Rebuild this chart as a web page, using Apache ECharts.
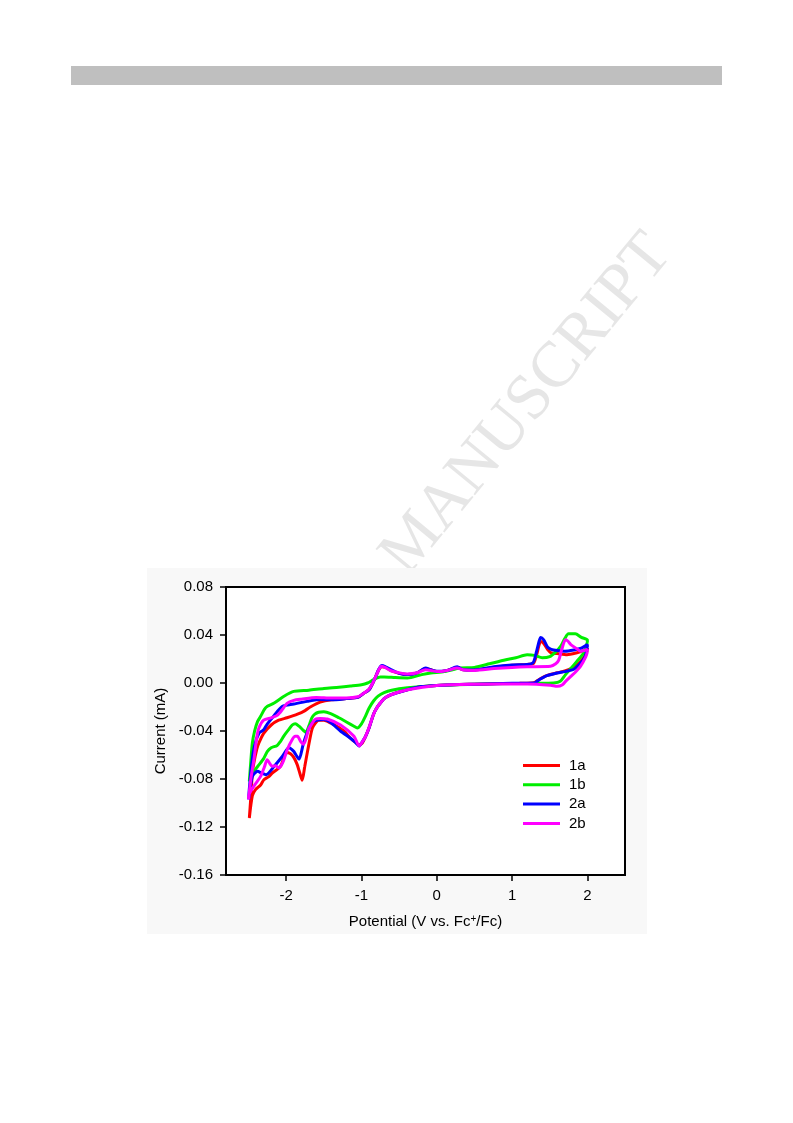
<!DOCTYPE html>
<html>
<head>
<meta charset="utf-8">
<script src="https://cdn.jsdelivr.net/npm/echarts@6/dist/echarts.min.js"></script>
<style>
html,body{margin:0;padding:0;background:#fff;}
#chart{width:793px;height:1123px;}
</style>
</head>
<body>
<div id="chart"></div>
<script>
// ---- Data (Potential V vs Fc+/Fc, Current mA), each loop traced in scan order ----
const seriesNames = ['1a', '1b', '2a', '2b'];
const seriesColors = ['#ff0000', '#00ee00', '#0000ff', '#ff00ff'];
const xTickValues = [-2, -1, 0, 1, 2];
const yTickValues = [-0.16, -0.12, -0.08, -0.04, 0.00, 0.04, 0.08];

const cv1a = [
  [2.0, 0.027], [1.95, 0.021], [1.91, 0.018], [1.82, 0.013], [1.7, 0.010], [1.6, 0.0085],
  [1.44, 0.0058], [1.35, 0.0025], [1.29, 0.0003], [1.1, -0.0002], [0.8, -0.0005], [0.5, -0.001],
  [0.3, -0.0012], [0.0, -0.002], [-0.2, -0.003], [-0.39, -0.0056], [-0.5, -0.0075], [-0.61, -0.0098],
  [-0.7, -0.013], [-0.75, -0.0167], [-0.8, -0.021], [-0.84, -0.026], [-0.9, -0.0375], [-0.95, -0.045],
  [-0.99, -0.050], [-1.03, -0.0515], [-1.08, -0.0495], [-1.146, -0.046], [-1.234, -0.040],
  [-1.33, -0.036], [-1.41, -0.0333], [-1.5, -0.031], [-1.57, -0.031], [-1.62, -0.034], [-1.655, -0.038],
  [-1.69, -0.048], [-1.72, -0.058], [-1.755, -0.070], [-1.788, -0.081], [-1.82, -0.075], [-1.854, -0.068],
  [-1.9, -0.062], [-1.943, -0.059], [-2.0, -0.058], [-2.04, -0.064], [-2.075, -0.0694], [-2.12, -0.072],
  [-2.186, -0.075], [-2.23, -0.078], [-2.297, -0.0806], [-2.34, -0.085], [-2.408, -0.0889], [-2.45, -0.094],
  [-2.49, -0.1125],
  [-2.47, -0.095], [-2.45, -0.075], [-2.43, -0.0667], [-2.39, -0.055], [-2.363, -0.050], [-2.3, -0.042],
  [-2.2, -0.035], [-2.1, -0.031], [-1.99, -0.029], [-1.85, -0.026], [-1.75, -0.023], [-1.68, -0.020],
  [-1.55, -0.016], [-1.4, -0.014], [-1.2, -0.013], [-1.05, -0.012], [-0.97, -0.0085], [-0.9, -0.0056],
  [-0.85, 0.0], [-0.81, 0.0056], [-0.77, 0.011], [-0.73, 0.0135], [-0.68, 0.013], [-0.6, 0.010],
  [-0.5, 0.008], [-0.39, 0.007], [-0.26, 0.0085], [-0.15, 0.012], [-0.08, 0.011], [0.0, 0.0095],
  [0.14, 0.0105], [0.27, 0.013], [0.35, 0.011], [0.5, 0.0108], [0.76, 0.013], [1.0, 0.0148],
  [1.2, 0.0155], [1.28, 0.016], [1.32, 0.022], [1.36, 0.032], [1.38, 0.0345], [1.42, 0.033],
  [1.47, 0.028], [1.52, 0.025], [1.6, 0.0245], [1.73, 0.0236], [1.85, 0.025], [1.95, 0.027],
  [2.0, 0.029], [2.0, 0.027]
];

const cv1b = [
  [2.0, 0.034], [1.95, 0.025], [1.86, 0.018], [1.78, 0.012], [1.71, 0.007], [1.64, 0.0014],
  [1.55, 0.0], [1.3, -0.0003], [1.0, -0.0005], [0.5, -0.001], [0.0, -0.002], [-0.39, -0.004],
  [-0.6, -0.006], [-0.7, -0.008], [-0.78, -0.011], [-0.84, -0.015], [-0.9, -0.021], [-0.95, -0.028],
  [-1.0, -0.034], [-1.057, -0.0375], [-1.1, -0.036], [-1.2, -0.0325], [-1.3, -0.029], [-1.41, -0.0255],
  [-1.5, -0.024], [-1.57, -0.0244], [-1.62, -0.026], [-1.66, -0.029], [-1.7, -0.036], [-1.74, -0.041],
  [-1.78, -0.039], [-1.83, -0.036], [-1.88, -0.034], [-1.92, -0.035], [-1.97, -0.039], [-2.03, -0.044],
  [-2.08, -0.049], [-2.12, -0.052], [-2.2, -0.054], [-2.25, -0.057], [-2.3, -0.063], [-2.385, -0.070],
  [-2.43, -0.074], [-2.49, -0.082],
  [-2.47, -0.065], [-2.45, -0.050], [-2.42, -0.040], [-2.38, -0.032], [-2.34, -0.0278], [-2.29, -0.022],
  [-2.25, -0.0194], [-2.16, -0.0167], [-2.03, -0.0111], [-1.9, -0.007], [-1.7, -0.006], [-1.5, -0.0045],
  [-1.3, -0.0035], [-1.146, -0.0025], [-1.0, -0.0014], [-0.92, 0.0], [-0.84, 0.0028], [-0.75, 0.005],
  [-0.7, 0.005], [-0.55, 0.0045], [-0.39, 0.0042], [-0.2, 0.007], [-0.08, 0.0083], [0.1, 0.0095],
  [0.31, 0.0125], [0.5, 0.013], [0.7, 0.016], [0.89, 0.019], [1.05, 0.021], [1.2, 0.0236],
  [1.3, 0.023], [1.4, 0.021], [1.5, 0.022], [1.58, 0.026], [1.65, 0.031], [1.7, 0.037],
  [1.75, 0.041], [1.84, 0.041], [1.92, 0.038], [2.0, 0.036], [2.0, 0.034]
];

const cv2a = [
  [2.0, 0.030], [1.97, 0.022], [1.91, 0.0167], [1.82, 0.0115], [1.7, 0.0095], [1.6, 0.0083],
  [1.44, 0.0056], [1.35, 0.0022], [1.29, 0.0], [1.0, -0.0003], [0.5, -0.001], [0.3, -0.0012],
  [0.0, -0.002], [-0.2, -0.003], [-0.39, -0.0056], [-0.61, -0.0098], [-0.7, -0.013], [-0.75, -0.0167],
  [-0.8, -0.021], [-0.84, -0.026], [-0.9, -0.0375], [-0.95, -0.045], [-1.0, -0.050], [-1.03, -0.0525],
  [-1.08, -0.0495], [-1.146, -0.046], [-1.28, -0.040], [-1.41, -0.033], [-1.5, -0.0305], [-1.6, -0.031],
  [-1.65, -0.033], [-1.7, -0.038], [-1.77, -0.050], [-1.83, -0.0635], [-1.87, -0.060], [-1.9, -0.057],
  [-1.965, -0.054], [-2.05, -0.061], [-2.16, -0.0694], [-2.27, -0.0764], [-2.33, -0.075], [-2.38, -0.0736],
  [-2.45, -0.078], [-2.5, -0.097],
  [-2.49, -0.088], [-2.46, -0.068], [-2.42, -0.052], [-2.36, -0.0417], [-2.3, -0.039], [-2.25, -0.034],
  [-2.16, -0.027], [-2.05, -0.0194], [-1.9, -0.0175], [-1.72, -0.0153], [-1.54, -0.0138], [-1.4, -0.014],
  [-1.2, -0.013], [-1.05, -0.012], [-0.97, -0.0085], [-0.9, -0.0056], [-0.85, 0.0], [-0.81, 0.0056],
  [-0.77, 0.0115], [-0.73, 0.0145], [-0.68, 0.0135], [-0.6, 0.011], [-0.5, 0.008], [-0.39, 0.007],
  [-0.26, 0.0085], [-0.15, 0.0125], [-0.08, 0.011], [0.0, 0.0097], [0.14, 0.0105], [0.27, 0.0135],
  [0.35, 0.011], [0.5, 0.0108], [0.76, 0.0135], [1.0, 0.015], [1.2, 0.0155], [1.28, 0.017],
  [1.32, 0.025], [1.36, 0.035], [1.38, 0.038], [1.42, 0.036], [1.47, 0.030], [1.52, 0.028],
  [1.6, 0.027], [1.7, 0.0265], [1.82, 0.0275], [1.92, 0.029], [2.0, 0.032], [2.0, 0.030]
];

const cv2b = [
  [2.0, 0.026], [1.98, 0.022], [1.91, 0.014], [1.84, 0.009], [1.78, 0.0056], [1.72, 0.002],
  [1.67, -0.0014], [1.6, -0.0028], [1.51, -0.0019], [1.2, -0.0008], [0.5, -0.001], [0.0, -0.002],
  [-0.39, -0.0056], [-0.61, -0.0098], [-0.7, -0.013], [-0.75, -0.0167], [-0.8, -0.021], [-0.84, -0.026],
  [-0.9, -0.037], [-0.95, -0.045], [-1.0, -0.050], [-1.03, -0.0525], [-1.1, -0.0444], [-1.278, -0.035],
  [-1.455, -0.030], [-1.55, -0.0295], [-1.61, -0.030], [-1.65, -0.033], [-1.7, -0.038], [-1.74, -0.047],
  [-1.77, -0.051], [-1.81, -0.0486], [-1.85, -0.0444], [-1.88, -0.0444], [-1.92, -0.047], [-1.987, -0.0556],
  [-2.031, -0.0639], [-2.06, -0.068], [-2.097, -0.0708], [-2.14, -0.069], [-2.186, -0.0694], [-2.22, -0.067],
  [-2.253, -0.0639], [-2.29, -0.070], [-2.34, -0.0778], [-2.43, -0.086], [-2.5, -0.0944],
  [-2.5, -0.097], [-2.47, -0.080], [-2.43, -0.0639], [-2.39, -0.045], [-2.363, -0.0375], [-2.3, -0.031],
  [-2.2, -0.029], [-2.12, -0.027], [-2.05, -0.022], [-1.99, -0.017], [-1.9, -0.0145], [-1.8, -0.0135],
  [-1.6, -0.012], [-1.4, -0.0125], [-1.2, -0.0125], [-1.05, -0.0115], [-0.97, -0.0085], [-0.9, -0.005],
  [-0.85, 0.0], [-0.81, 0.0056], [-0.77, 0.011], [-0.74, 0.014], [-0.69, 0.013], [-0.6, 0.010],
  [-0.5, 0.0085], [-0.39, 0.0075], [-0.26, 0.0085], [-0.15, 0.011], [-0.08, 0.0105], [0.0, 0.0095],
  [0.14, 0.0105], [0.27, 0.0125], [0.35, 0.011], [0.5, 0.0105], [0.76, 0.012], [1.0, 0.013],
  [1.2, 0.0135], [1.51, 0.0139], [1.58, 0.016], [1.62, 0.019], [1.66, 0.028], [1.71, 0.036],
  [1.74, 0.035], [1.78, 0.032], [1.85, 0.029], [1.91, 0.0264], [2.0, 0.028], [2.0, 0.026]
];

const seriesData = [cv1a, cv1b, cv2a, cv2b];

// ---- Chart ----
const chart = echarts.init(document.getElementById('chart'), null, {renderer: 'canvas'});
const FONT = '"Liberation Sans", Arial, sans-serif';

const option = {
  animation: false,
  backgroundColor: '#ffffff',
  graphic: [
    {type: 'rect', z: -100, shape: {x: 71, y: 66, width: 651, height: 19}, style: {fill: '#bfbfbf'}},
    {type: 'text', z: -100, x: 660, y: 243, rotation: 50.6 * Math.PI / 180,
      style: {text: 'ACCEPTED MANUSCRIPT', fontSize: 65, fontFamily: '"Liberation Serif", "Times New Roman", serif',
        fill: '#e6e6e6', align: 'right', verticalAlign: 'middle'}},
    {type: 'rect', z: -90, shape: {x: 147, y: 568, width: 500, height: 366}, style: {fill: '#f8f8f8'}}
  ],
  grid: {
    left: 226, right: 168, top: 587, bottom: 248,
    show: true, backgroundColor: '#ffffff', borderColor: '#000000', borderWidth: 2
  },
  legend: {
    data: seriesNames,
    orient: 'vertical',
    left: 518, top: 753,
    icon: 'rect', itemWidth: 37, itemHeight: 3, itemGap: 4.3,
    textStyle: {fontFamily: FONT, fontSize: 15, color: '#000', lineHeight: 15, padding: [0, 0, 0, 4]}
  },
  xAxis: {
    type: 'value', min: -2.8, max: 2.5,
    name: 'Potential (V vs. Fc{sup|+}/Fc)',
    nameLocation: 'middle', nameGap: 39,
    nameTextStyle: {fontFamily: FONT, fontSize: 15, color: '#000',
      rich: {sup: {fontFamily: FONT, fontSize: 10, color: '#000', verticalAlign: 'top', lineHeight: 10}}},
    splitLine: {show: false},
    axisLine: {show: true, onZero: false, lineStyle: {color: '#000', width: 2}},
    axisTick: {show: true, inside: false, length: 6, customValues: xTickValues, lineStyle: {color: '#000', width: 1.5}},
    axisLabel: {customValues: xTickValues, margin: 13, fontFamily: FONT, fontSize: 15, color: '#000',
      formatter: v => String(v)}
  },
  yAxis: {
    type: 'value', min: -0.16, max: 0.08, interval: 0.04,
    name: 'Current (mA)', nameLocation: 'middle', nameGap: 58,
    nameTextStyle: {fontFamily: FONT, fontSize: 15, color: '#000'},
    splitLine: {show: false},
    axisLine: {show: true, onZero: false, lineStyle: {color: '#000', width: 2}},
    axisTick: {show: true, inside: false, length: 6, customValues: yTickValues, lineStyle: {color: '#000', width: 1.5}},
    axisLabel: {customValues: yTickValues, margin: 13, fontFamily: FONT, fontSize: 15, color: '#000',
      formatter: v => v.toFixed(2)}
  },
  series: seriesNames.map((name, i) => ({
    name: name,
    type: 'line',
    data: seriesData[i],
    showSymbol: false,
    symbol: 'none',
    smooth: 0.25,
    color: seriesColors[i],
    lineStyle: {width: 3, color: seriesColors[i]},
    z: 2 + i
  }))
};
chart.setOption(option);
</script>
</body>
</html>
